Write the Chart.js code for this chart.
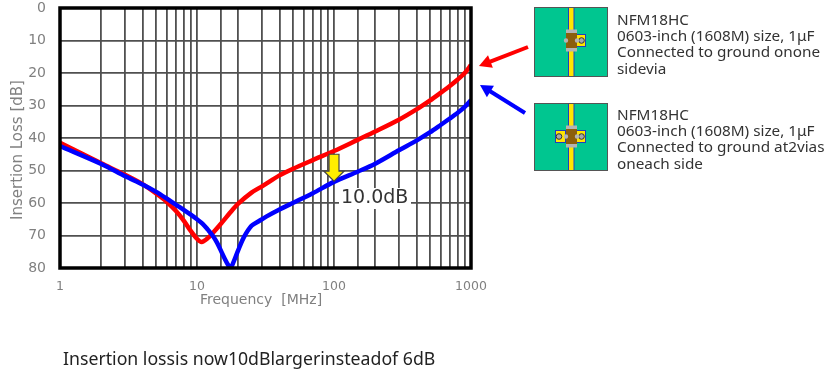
<!DOCTYPE html>
<html>
<head>
<meta charset="utf-8">
<script src="https://cdn.jsdelivr.net/npm/chart.js@4"></script>
<style>
    html, body { margin: 0; padding: 0; background: #fff; }
    #wrap { position: relative; width: 830px; height: 380px; overflow: hidden; }
    #chart { position: absolute; left: 0; top: 0; }
    .note { position: absolute; left: 617px; font: 15.3px/16.2px "Noto Sans", sans-serif; color: #333; white-space: pre; }
    #caption { position: absolute; left: 63px; top: 347px; font: 17.7px/22px "Noto Sans", sans-serif; color: #222; white-space: pre; }
</style>
</head>
<body>
<div id="wrap">
    <canvas id="chart" width="830" height="380"></canvas>
    <div class="note" style="top: 11px" id="noteRed"></div>
    <div class="note" style="top: 106px" id="noteBlue"></div>
    <div id="caption"></div>
</div>
<script>
// values
const redFreq = [1, 2, 3, 4, 5, 6, 7, 8, 9, 10, 10.8, 12, 13, 15, 18, 20, 25, 30, 40, 50, 70, 100, 150, 200, 300, 400, 500, 600, 700, 800, 900, 1000];
const redLoss = [41.5, 47.8, 51.4, 54.2, 57, 59.6, 62.4, 65.4, 68.6, 71, 72, 70.8, 69.3, 66.3, 62.3, 60.2, 56.8, 54.8, 51.5, 49.5, 46.8, 44, 40.5, 38, 34.3, 31.2, 28.5, 26.1, 24, 22, 20, 17.5];
const blueFreq = [1, 2, 3, 4, 5, 6, 7, 8, 9, 10, 11, 12, 13, 14, 15, 16, 17, 17.5, 18.3, 20, 22, 25, 28, 32, 40, 50, 70, 100, 150, 200, 300, 400, 500, 600, 700, 800, 900, 1000];
const blueLoss = [42.5, 48, 51.8, 54.3, 56.5, 58.6, 60.5, 62.1, 63.6, 65, 66.4, 68.2, 70, 72.2, 74.8, 77.3, 79.3, 80, 78.6, 74.5, 70.5, 67, 65.7, 64.2, 62, 60, 57, 53.5, 50.3, 47.9, 43.7, 40.8, 38.3, 36, 34, 32.2, 30.4, 28.3];
const xTickLabels = [1, 10, 100, 1000];

const gapFreq = 100;
const gapFrom = 45;
const gapTo = 53.3;
const gapLabel = '10.0dB';

const noteRed = ['NFM18HC', '0603-inch (1608M) size, 1μF', 'Connected to ground onone', 'sidevia'];
const noteBlue = ['NFM18HC', '0603-inch (1608M) size, 1μF', 'Connected to ground at2vias', 'oneach side'];
const captionText = 'Insertion lossis now10dBlargerinsteadof 6dB';

document.getElementById('noteRed').textContent = noteRed.join('\n');
document.getElementById('noteBlue').textContent = noteBlue.join('\n');
document.getElementById('caption').textContent = captionText;

function toPoints(xs, ys) {
    return xs.map((x, i) => ({x: x, y: ys[i]}));
}

function drawArrow(ctx, x0, y0, x1, y1, color) {
    const a = Math.atan2(y1 - y0, x1 - x0);
    ctx.strokeStyle = color;
    ctx.fillStyle = color;
    ctx.lineWidth = 4;
    ctx.beginPath();
    ctx.moveTo(x0, y0);
    ctx.lineTo(x1 - 10 * Math.cos(a), y1 - 10 * Math.sin(a));
    ctx.stroke();
    ctx.beginPath();
    ctx.moveTo(x1, y1);
    ctx.lineTo(x1 - 14 * Math.cos(a - 0.5), y1 - 14 * Math.sin(a - 0.5));
    ctx.lineTo(x1 - 14 * Math.cos(a + 0.5), y1 - 14 * Math.sin(a + 0.5));
    ctx.closePath();
    ctx.fill();
}

function drawPad(ctx, x, y, w, h, viaX) {
    ctx.fillStyle = '#ffe600';
    ctx.fillRect(x, y, w, h);
    ctx.strokeStyle = '#1f3fc0';
    ctx.lineWidth = 1;
    ctx.strokeRect(x + 0.5, y + 0.5, w - 1, h - 1);
    ctx.fillStyle = '#a8a8a8';
    ctx.strokeStyle = '#333';
    ctx.beginPath();
    ctx.arc(viaX, y + h / 2, 2.8, 0, Math.PI * 2);
    ctx.fill();
    ctx.stroke();
}

function drawBoard(ctx, top, h, bothSides) {
    const cy = top + h / 2 + (bothSides ? 0 : -1);
    ctx.fillStyle = '#00c690';
    ctx.fillRect(534, top, 73, h);
    ctx.fillStyle = '#1f3fc0';
    ctx.fillRect(568, top, 6.5, h);
    ctx.fillStyle = '#ffe600';
    ctx.fillRect(569, top, 4.5, h);
    ctx.strokeStyle = '#555';
    ctx.lineWidth = 1;
    ctx.strokeRect(534.5, top + 0.5, 73, h);
    if (bothSides) drawPad(ctx, 555, cy - 6.5, 11, 13, 559);
    drawPad(ctx, 576, cy - 6.5, 10, 13, 581.5);
    // chip body and its terminals
    ctx.fillStyle = '#b4b4b4';
    ctx.fillRect(566, cy - 11, 11, 22);
    ctx.fillStyle = '#8c5f0c';
    ctx.fillRect(566, cy - 7.5, 11, 15);
    ctx.fillStyle = '#b4b4b4';
    ctx.beginPath();
    ctx.arc(566, cy, 2.2, 0, Math.PI * 2);
    ctx.arc(577, cy, 2.2, 0, Math.PI * 2);
    ctx.fill();
}

const annotations = {
    id: 'annotations',
    afterDraw(chart) {
        const ctx = chart.ctx;
        const area = chart.chartArea;
        const x = chart.scales.x;
        const y = chart.scales.y;
        ctx.save();

        ctx.strokeStyle = '#000';
        ctx.lineWidth = 3.5;
        ctx.strokeRect(area.left, area.top, area.width, area.height);

        // yellow arrow between the two curves
        const gx = x.getPixelForValue(gapFreq);
        const gy0 = y.getPixelForValue(gapFrom);
        const gy1 = y.getPixelForValue(gapTo);
        ctx.fillStyle = '#ffee00';
        ctx.strokeStyle = '#444';
        ctx.lineWidth = 1.2;
        ctx.beginPath();
        ctx.moveTo(gx - 5, gy0);
        ctx.lineTo(gx + 5, gy0);
        ctx.lineTo(gx + 5, gy1 - 10);
        ctx.lineTo(gx + 10, gy1 - 10);
        ctx.lineTo(gx, gy1);
        ctx.lineTo(gx - 10, gy1 - 10);
        ctx.lineTo(gx - 5, gy1 - 10);
        ctx.closePath();
        ctx.fill();
        ctx.stroke();

        ctx.fillStyle = '#fff';
        ctx.fillRect(339, 188, 72, 21);
        ctx.fillStyle = '#333';
        ctx.font = '19px "DejaVu Sans"';
        ctx.textAlign = 'left';
        ctx.textBaseline = 'middle';
        ctx.fillText(gapLabel, 341, 198.5);

        ctx.fillStyle = '#808080';
        ctx.font = '15px "DejaVu Sans"';
        ctx.textAlign = 'center';
        ctx.translate(18, 150);
        ctx.rotate(-Math.PI / 2);
        ctx.fillText('Insertion Loss [dB]', 0, 0);
        ctx.setTransform(1, 0, 0, 1, 0, 0);

        drawArrow(ctx, 528, 47, 479, 66, '#ff0000');
        drawArrow(ctx, 525, 113, 480, 85, '#0000ff');
        drawBoard(ctx, 7, 69, false);
        drawBoard(ctx, 103, 67, true);
        ctx.restore();
    }
};

new Chart(document.getElementById('chart').getContext('2d'), {
    type: 'line',
    data: {
        datasets: [
            {
                label: 'Blue',
                data: toPoints(blueFreq, blueLoss),
                borderColor: '#0000ff',
                borderWidth: 4.5,
                pointRadius: 0,
                tension: 0.3
            },
            {
                label: 'Red',
                data: toPoints(redFreq, redLoss),
                borderColor: '#ff0000',
                borderWidth: 4.5,
                pointRadius: 0,
                tension: 0.3
            }
        ]
    },
    options: {
        responsive: false,
        animation: false,
        layout: {padding: {top: 8, right: 359}},
        plugins: {legend: {display: false}, tooltip: {enabled: false}},
        scales: {
            x: {
                type: 'logarithmic',
                min: 1,
                max: 1000,
                afterFit(scale) {
                    scale.height = 112;
                    scale.paddingLeft = 0;
                    scale.paddingRight = 0;
                },
                grid: {color: '#505050', lineWidth: 1.8, drawTicks: false},
                border: {display: false},
                ticks: {
                    autoSkip: false,
                    maxRotation: 0,
                    padding: 11,
                    color: '#808080',
                    font: {family: 'DejaVu Sans', size: 12.5},
                    callback: value => xTickLabels.includes(value) ? String(value) : ''
                },
                title: {
                    display: true,
                    text: 'Frequency  [MHz]  ',
                    color: '#808080',
                    font: {family: 'DejaVu Sans', size: 14},
                    padding: {top: 0, bottom: 71}
                }
            },
            y: {
                reverse: true,
                min: 0,
                max: 80,
                afterFit(scale) {
                    scale.width = 60;
                    scale.paddingTop = 0;
                    scale.paddingBottom = 0;
                },
                grid: {color: '#505050', lineWidth: 1.8, drawTicks: false},
                border: {display: false},
                ticks: {
                    stepSize: 10,
                    padding: 14,
                    color: '#808080',
                    font: {family: 'DejaVu Sans', size: 14}
                }
            }
        }
    },
    plugins: [annotations]
});
</script>
</body>
</html>
